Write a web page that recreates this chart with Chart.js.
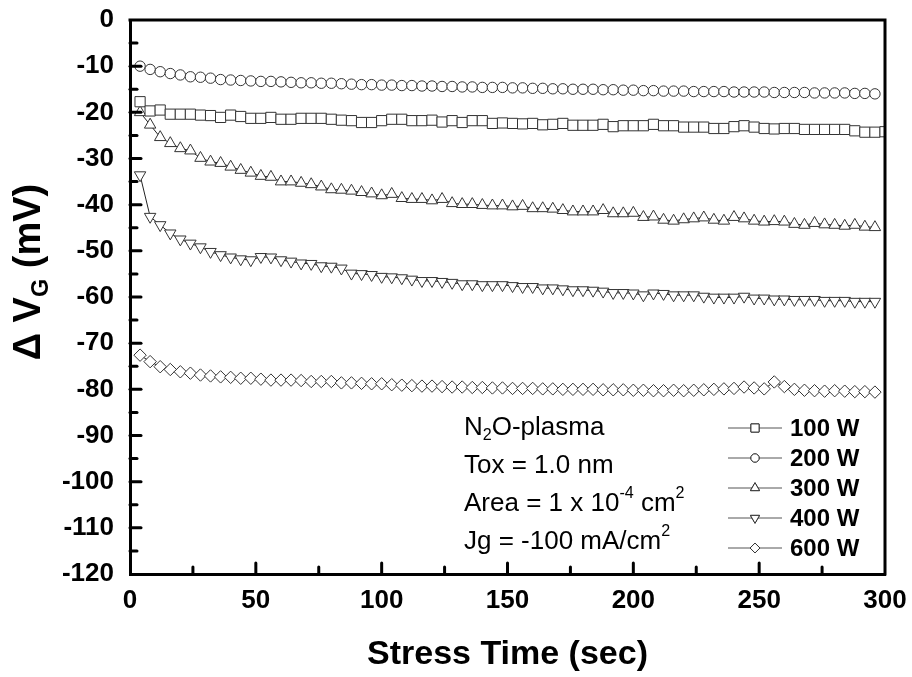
<!DOCTYPE html>
<html>
<head>
<meta charset="utf-8">
<script src="https://cdn.jsdelivr.net/npm/chart.js@4/dist/chart.umd.min.js"></script>
<style>
  body { margin: 0; background: #fff; }
  canvas { display: block; }
</style>
</head>
<body>
<canvas id="chart" width="912" height="677"></canvas>
<script>
const times = [4, 8, 12, 16, 20, 24, 28, 32, 36, 40, 44, 48, 52, 56, 60, 64, 68, 72, 76, 80,
  84, 88, 92, 96, 100, 104, 108, 112, 116, 120, 124, 128, 132, 136, 140, 144, 148, 152, 156, 160,
  164, 168, 172, 176, 180, 184, 188, 192, 196, 200, 204, 208, 212, 216, 220, 224, 228, 232, 236, 240,
  244, 248, 252, 256, 260, 264, 268, 272, 276, 280, 284, 288, 292, 296, 300];

const xTicks = [0, 50, 100, 150, 200, 250, 300];
const yTicks = [0, -10, -20, -30, -40, -50, -60, -70, -80, -90, -100, -110, -120];

const legendLabels = ['100 W', '200 W', '300 W', '400 W', '600 W'];

const w100 = [-17.7, -19.7, -19.5, -20.4, -20.4, -20.4, -20.6, -20.7, -21.1, -20.6, -20.9, -21.3, -21.3, -21.1, -21.5, -21.5, -21.3, -21.3, -21.3, -21.5, -21.7, -21.8, -22.2, -22.2, -21.8,
  -21.5, -21.5, -21.8, -21.8, -21.7, -22.1, -21.8, -22.2, -21.8, -21.8, -22.4, -22.3, -22.4, -22.5, -22.4, -22.7, -22.6, -22.4, -22.8, -22.8, -22.8, -22.6, -23.1, -22.9, -22.9,
  -22.9, -22.6, -22.9, -22.9, -23.2, -23.2, -23.2, -23.5, -23.5, -23.1, -22.9, -23.2, -23.5, -23.6, -23.5, -23.5, -23.7, -23.7, -23.7, -23.7, -23.7, -24.0, -24.3, -24.3, -24.2];

const w200 = [-10.0, -10.7, -11.2, -11.6, -11.9, -12.3, -12.4, -12.6, -12.9, -13.0, -13.1, -13.2, -13.3, -13.3, -13.4, -13.5, -13.6, -13.6, -13.7, -13.7, -13.8, -13.9, -14.0, -14.0, -14.1,
  -14.1, -14.2, -14.2, -14.3, -14.3, -14.4, -14.4, -14.5, -14.5, -14.6, -14.6, -14.6, -14.7, -14.7, -14.8, -14.8, -14.9, -14.9, -15.0, -15.0, -15.0, -15.1, -15.1, -15.2, -15.2,
  -15.3, -15.3, -15.4, -15.4, -15.4, -15.5, -15.5, -15.5, -15.5, -15.6, -15.6, -15.6, -15.6, -15.7, -15.7, -15.7, -15.7, -15.8, -15.8, -15.8, -15.8, -15.9, -15.9, -16.0];

const w300 = [-20.0, -22.7, -25.4, -26.7, -27.8, -28.3, -29.9, -30.7, -31.0, -31.8, -32.5, -33.1, -33.8, -34.0, -35.0, -35.0, -35.3, -35.6, -36.1, -36.7, -36.8, -37.0, -37.3, -37.6, -38.0,
  -37.7, -38.6, -38.8, -38.8, -39.1, -38.8, -39.7, -39.9, -39.9, -40.1, -40.2, -40.2, -40.4, -40.3, -40.8, -40.8, -40.9, -41.2, -41.5, -41.5, -41.5, -41.2, -41.9, -41.9, -41.8,
  -42.7, -42.6, -43.3, -43.5, -43.2, -43.0, -42.8, -43.3, -43.5, -42.7, -43.0, -43.5, -43.7, -43.6, -43.7, -44.2, -44.4, -44.0, -44.3, -44.4, -44.6, -44.4, -44.8, -44.9];

const w400 = [-33.6, -42.6, -44.4, -46.2, -47.5, -48.4, -49.2, -50.2, -50.9, -51.4, -51.8, -52.0, -51.3, -51.4, -52.0, -52.3, -52.7, -52.8, -53.3, -53.4, -53.8, -54.9, -55.0, -55.2, -55.6,
  -55.7, -55.9, -56.2, -56.5, -56.5, -56.7, -56.9, -57.2, -57.2, -57.4, -57.4, -57.4, -57.6, -57.8, -57.8, -58.1, -58.1, -58.3, -58.5, -58.5, -58.6, -58.8, -59.1, -59.1, -59.2,
  -59.6, -59.2, -59.3, -59.6, -59.6, -59.6, -59.9, -60.1, -60.1, -60.1, -59.9, -60.3, -60.3, -60.5, -60.5, -60.6, -60.6, -60.6, -60.8, -60.8, -60.8, -61.0, -61.0, -61.0];

const w600 = [-72.6, -74.0, -75.1, -75.7, -76.2, -76.5, -76.9, -77.1, -77.3, -77.4, -77.6, -77.6, -77.8, -78.0, -78.0, -78.0, -78.1, -78.3, -78.3, -78.3, -78.6, -78.6, -78.7, -78.8, -78.8,
  -79.0, -79.1, -79.2, -79.3, -79.3, -79.4, -79.5, -79.5, -79.6, -79.6, -79.7, -79.7, -79.8, -79.8, -79.8, -79.9, -79.9, -80.0, -80.0, -80.0, -80.0, -80.1, -80.1, -80.1, -80.2,
  -80.2, -80.3, -80.3, -80.2, -80.3, -80.2, -80.1, -80.0, -79.9, -79.8, -79.5, -79.7, -79.9, -78.4, -79.4, -80.0, -80.2, -80.3, -80.4, -80.3, -80.4, -80.5, -80.5, -80.6];

const FONT = "'Liberation Sans', Arial, sans-serif";
const LINE = '#222';
const MARK = '#333';

const toPoints = vals => vals.map((v, i) => ({ x: times[i], y: v }));

const series = [
  { data: w100, pointStyle: 'rect', radius: 7.2, rotation: 0 },
  { data: w200, pointStyle: 'circle', radius: 5.2, rotation: 0 },
  { data: w300, pointStyle: 'triangle', radius: 6.6, rotation: 0 },
  { data: w400, pointStyle: 'triangle', radius: 6.6, rotation: 180 },
  { data: w600, pointStyle: 'rectRot', radius: 6.2, rotation: 0 }
];

// draws a line of text with sub/superscript pieces, returns width
function richText(ctx, parts, x, y, size, weight, measureOnly) {
  let cx = x;
  parts.forEach(([txt, mode]) => {
    const s = mode ? size * 0.62 : size;
    ctx.font = `${weight} ${s}px ${FONT}`;
    const dy = mode === 'sub' ? size * 0.3 : mode === 'sup' ? -size * 0.42 : 0;
    if (!measureOnly) ctx.fillText(txt, cx, y + dy);
    cx += ctx.measureText(txt).width;
  });
  return cx - x;
}

const zeroPad = s => {
  s.paddingTop = 0;
  s.paddingBottom = 0;
  s.paddingLeft = 0;
  s.paddingRight = 0;
};

const decorations = {
  id: 'decorations',
  afterDraw(chart) {
    const { ctx, chartArea: a, scales } = chart;
    const xs = scales.x, ys = scales.y;
    ctx.save();
    ctx.strokeStyle = '#000';
    ctx.fillStyle = '#000';

    // top and right frame
    ctx.lineWidth = 3;
    ctx.lineCap = 'square';
    ctx.beginPath();
    ctx.moveTo(a.left, a.top);
    ctx.lineTo(a.right, a.top);
    ctx.lineTo(a.right, a.bottom);
    ctx.stroke();

    // inward ticks
    ctx.lineCap = 'round';
    for (let v = -115; v < 0; v += 5) {
      const y = ys.getPixelForValue(v);
      const len = v % 10 === 0 ? 11 : 7;
      ctx.beginPath();
      ctx.moveTo(a.left, y);
      ctx.lineTo(a.left + len, y);
      ctx.stroke();
    }
    for (let v = 25; v < 300; v += 25) {
      const x = xs.getPixelForValue(v);
      const len = v % 50 === 0 ? 11 : 7;
      ctx.beginPath();
      ctx.moveTo(x, a.bottom);
      ctx.lineTo(x, a.bottom - len);
      ctx.stroke();
    }

    // axis titles
    ctx.textBaseline = 'middle';
    ctx.textAlign = 'center';
    ctx.font = `bold 34px ${FONT}`;
    ctx.fillText('Stress Time (sec)', (a.left + a.right) / 2, 655);

    ctx.save();
    ctx.translate(30, 272);
    ctx.rotate(-Math.PI / 2);
    ctx.textAlign = 'left';
    const yTitle = [['\u0394 V', null], ['G', 'sub'], [' (mV)', null]];
    const tw = richText(ctx, yTitle, 0, 0, 38, 'bold', true);
    richText(ctx, yTitle, -tw / 2, 0, 38, 'bold');
    ctx.restore();

    // annotation block
    ctx.textAlign = 'left';
    const notes = [
      [['N', null], ['2', 'sub'], ['O-plasma', null]],
      [['Tox = 1.0 nm', null]],
      [['Area = 1 x 10', null], ['-4', 'sup'], [' cm', null], ['2', 'sup']],
      [['Jg = -100 mA/cm', null], ['2', 'sup']]
    ];
    notes.forEach((parts, i) => richText(ctx, parts, 464, 428 + i * 38, 26, 'normal'));

    // legend: line - marker - line
    chart.data.datasets.forEach((ds, i) => {
      const y = 428 + i * 30;
      ctx.strokeStyle = '#555';
      ctx.lineWidth = 1;
      ctx.lineCap = 'butt';
      ctx.beginPath();
      ctx.moveTo(728, y);
      ctx.lineTo(782, y);
      ctx.stroke();
      ctx.fillStyle = '#fff';
      ctx.strokeStyle = MARK;
      Chart.helpers.drawPoint(ctx, {
        pointStyle: ds.pointStyle,
        radius: ds.pointRadius * 0.8,
        rotation: ds.pointRotation,
        borderWidth: 1
      }, 755, y);
      ctx.fill();
      ctx.stroke();
      ctx.fillStyle = '#000';
      ctx.font = `bold 24px ${FONT}`;
      ctx.fillText(legendLabels[i], 790, y + 1);
    });
    ctx.restore();
  }
};

new Chart(document.getElementById('chart').getContext('2d'), {
  type: 'line',
  data: {
    datasets: series.map((s, i) => ({
      label: legendLabels[i],
      data: toPoints(s.data),
      borderColor: LINE,
      borderWidth: 1,
      tension: 0,
      fill: false,
      pointStyle: s.pointStyle,
      pointRadius: s.radius,
      pointRotation: s.rotation,
      pointBorderColor: MARK,
      pointBackgroundColor: '#fff',
      pointBorderWidth: 1
    }))
  },
  options: {
    responsive: false,
    animation: false,
    layout: { padding: { top: 20, right: 27, left: 0, bottom: 0 } },
    scales: {
      x: {
        type: 'linear',
        min: 0,
        max: 300,
        afterBuildTicks: s => { s.ticks = xTicks.map(v => ({ value: v })); },
        afterFit: s => { s.height = 103; zeroPad(s); },
        ticks: { color: '#000', font: { family: FONT, size: 26, weight: 'bold' }, padding: 11, maxRotation: 0 },
        grid: { display: true, drawOnChartArea: false, drawTicks: false },
        border: { display: true, width: 3, color: '#000' }
      },
      y: {
        type: 'linear',
        min: -120,
        max: 0,
        afterBuildTicks: s => { s.ticks = yTicks.map(v => ({ value: v })); },
        afterFit: s => { s.width = 130; zeroPad(s); },
        ticks: { color: '#000', font: { family: FONT, size: 26, weight: 'bold' }, padding: 16 },
        grid: { display: true, drawOnChartArea: false, drawTicks: false },
        border: { display: true, width: 3, color: '#000' }
      }
    },
    plugins: {
      legend: { display: false },
      tooltip: { enabled: false }
    }
  },
  plugins: [decorations]
});
</script>
</body>
</html>
